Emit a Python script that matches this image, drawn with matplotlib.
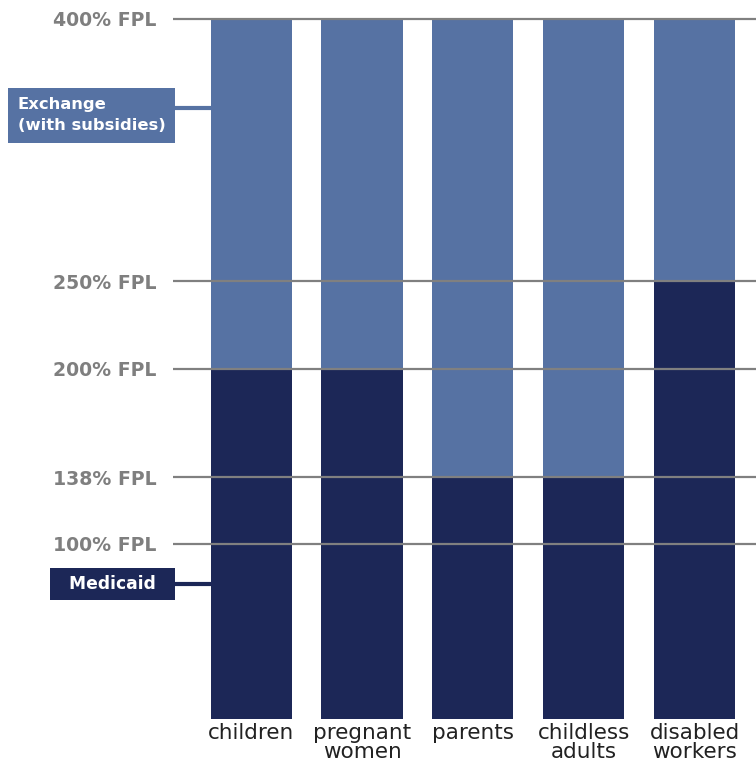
import matplotlib.pyplot as plt
import matplotlib.transforms as mtransforms

groups = ['children', 'pregnant\nwomen', 'parents', 'childless\nadults', 'disabled\nworkers']
medicaid = [200, 200, 138, 138, 250]
exchange_top = [400, 400, 400, 400, 400]
fpl_ticks = [100, 138, 200, 250, 400]
fpl_labels = ['100% FPL', '138% FPL', '200% FPL', '250% FPL', '400% FPL']

medicaid_col = '#1c2757'
exchange_col = '#5672a3'
grid_col = '#808080'

plt.rcParams['font.family'] = ['DejaVu Sans']

fig = plt.figure(figsize=(7.56, 7.70), dpi=100)
ax = fig.add_axes([173 / 756, 51 / 770, 1 - 173 / 756, (719 - 10) / 770])

x = list(range(len(groups)))
w = 0.73
ax.bar(x, medicaid, width=w, color=medicaid_col, zorder=1)
ax.bar(x, [t - m for t, m in zip(exchange_top, medicaid)], bottom=medicaid,
       width=w, color=exchange_col, zorder=1)

ax.hlines(fpl_ticks, -0.703, 4.55, colors=grid_col, lw=1.6, zorder=3)

ax.set_xlim(-0.703, 4.55)
ax.set_ylim(0, 405)
ax.set_yticks(fpl_ticks)
ax.set_yticklabels(fpl_labels, fontsize=13.6, fontweight='bold', color='#7f7f7f')
ax.set_xticks(x)
ax.set_xticklabels(groups, fontsize=15.5, color='#222222', linespacing=0.9)
ax.tick_params(axis='y', length=0, pad=12)
ax.tick_params(axis='x', length=0, pad=3)
for s in ax.spines.values():
    s.set_visible(False)

# callout boxes on the left
trans = mtransforms.blended_transform_factory(ax.transAxes, ax.transData)
ax.text(-0.013, 345, 'Exchange\n(with subsidies)', transform=trans, ha='right', va='center',
        multialignment='left', fontsize=11.8, fontweight='bold', color='white',
        linespacing=1.5, clip_on=False,
        bbox=dict(boxstyle='square,pad=0.58', fc=exchange_col, ec='none'))
ax.plot([-0.703, -w / 2], [349, 349], color=exchange_col, lw=3, zorder=2, clip_on=False)

ax.text(-0.009, 77, '  Medicaid  ', transform=trans, ha='right', va='center',
        fontsize=12.3, fontweight='bold', color='white', clip_on=False,
        bbox=dict(boxstyle='square,pad=0.4', fc=medicaid_col, ec='none'))
ax.plot([-0.703, -w / 2], [77, 77], color=medicaid_col, lw=3, zorder=2, clip_on=False)

fig.savefig('out.png', dpi=100)
